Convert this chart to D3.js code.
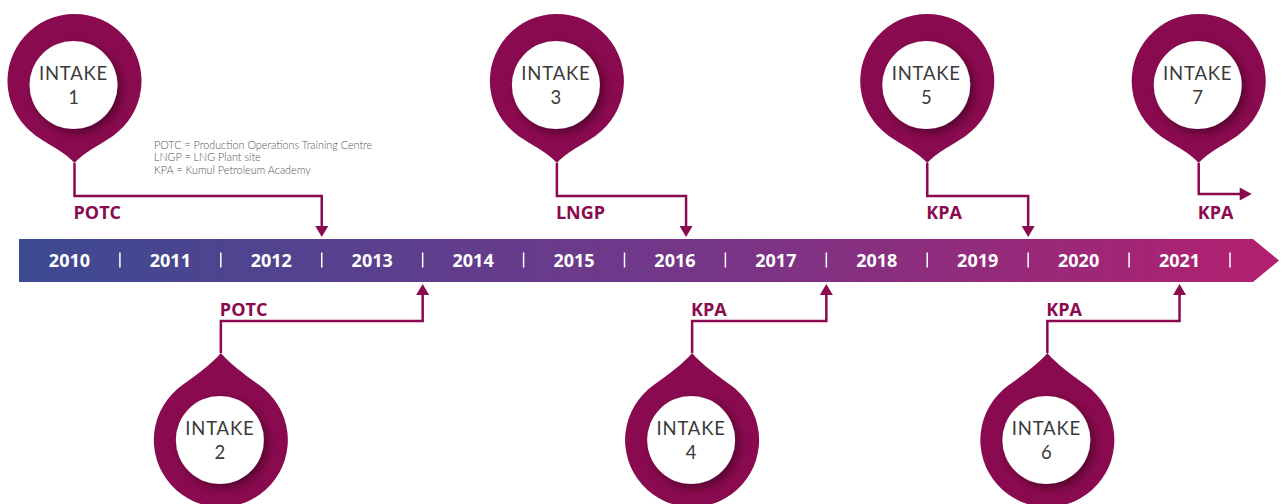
<!DOCTYPE html>
<html>
<head>
<meta charset="utf-8">
<script src="https://cdn.jsdelivr.net/npm/d3@7"></script>
<style>
  body { margin: 0; background: #fff; }
  svg { display: block; }
</style>
</head>
<body>
<svg id="chart" width="1282" height="504"></svg>
<script>
// timeline data
const years = [2010, 2011, 2012, 2013, 2014, 2015, 2016, 2017, 2018, 2019, 2020, 2021];
const intakes = [1, 2, 3, 4, 5, 6, 7];
const locations = ["POTC", "POTC", "LNGP", "KPA", "KPA", "KPA", "KPA"];
const sides = ["top", "bottom", "top", "bottom", "top", "bottom", "top"];
const startYears = [2010.55, 2012.0, 2015.33, 2016.67, 2019.0, 2020.19, 2021.69];
const arrivalYears = [2013.0, 2014.0, 2016.61, 2018.0, 2020.0, 2021.5, null]; // null = ongoing
const legendLines = [
    "POTC = Production Operations Training Centre",
    "LNGP = LNG Plant site",
    "KPA = Kumul Petroleum Academy"
];

const pinColor = "#8a0a4f";

const svg = d3.select("#chart");
const x = d3.scaleLinear().domain([2010, 2022]).range([19, 1230]);

const barTop = 239, barBottom = 282, barMid = (barTop + barBottom) / 2;
const topLineY = 196, bottomLineY = 321;

// gradient for the bar
const defs = svg.append("defs");
const grad = defs.append("linearGradient").attr("id", "barGrad")
    .attr("x1", "0%").attr("x2", "100%").attr("y1", "0%").attr("y2", "0%");
grad.append("stop").attr("offset", "0%").attr("stop-color", "#3c4a92");
grad.append("stop").attr("offset", "50%").attr("stop-color", "#71388a");
grad.append("stop").attr("offset", "100%").attr("stop-color", "#b2206f");

const shadow = defs.append("filter").attr("id", "innerShadow")
    .attr("x", "-30%").attr("y", "-30%").attr("width", "160%").attr("height", "160%");
shadow.append("feDropShadow")
    .attr("dx", 4).attr("dy", 4).attr("stdDeviation", 4)
    .attr("flood-color", "#2a0016").attr("flood-opacity", 0.55);

// the bar with arrow end
const barEnd = 1253, tipX = 1279;
svg.append("path")
    .attr("d", `M${x(2010)},${barTop} L${barEnd},${barTop} L${tipX},${barMid} L${barEnd},${barBottom} L${x(2010)},${barBottom} Z`)
    .attr("fill", "url(#barGrad)");

// year labels
svg.selectAll("text.year")
    .data(years)
    .enter().append("text")
    .attr("class", "year")
    .attr("x", d => x(d + 0.5))
    .attr("y", barMid + 6.5)
    .attr("text-anchor", "middle")
    .attr("font-family", "Open Sans")
    .attr("font-weight", 700)
    .attr("font-size", 18)
    .attr("fill", "#fff")
    .text(d => d);

// separators
svg.selectAll("line.sep")
    .data(years)
    .enter().append("line")
    .attr("class", "sep")
    .attr("x1", d => x(d + 1)).attr("x2", d => x(d + 1))
    .attr("y1", barMid - 8).attr("y2", barMid + 7)
    .attr("stroke", "#fff")
    .attr("stroke-width", 1.5);

// legend
svg.append("g").selectAll("text")
    .data(legendLines)
    .enter().append("text")
    .attr("x", 154)
    .attr("y", (d, i) => 148.5 + i * 12.7)
    .attr("font-family", "Lato")
    .attr("font-weight", 300)
    .attr("font-size", 10.8)
    .attr("fill", "#555")
    .text(d => d);

const events = intakes.map((n, i) => ({
    n: n,
    loc: locations[i],
    side: sides[i],
    start: startYears[i],
    arrive: arrivalYears[i]
}));

// pin outline, tip pointing along +y (dir flips it)
function pinPath(d, dir) {
    const r = 67;
    const th = 35 * Math.PI / 180;
    const jx = r * Math.sin(th), jy = r * Math.cos(th);
    const s = v => v * dir;
    return `M0,${s(d)} ` +
        `C${-8},${s(d - 10)} ${-27},${s(63)} ${-jx},${s(jy)} ` +
        `A${r},${r} 0 1 ${dir > 0 ? 1 : 0} ${jx},${s(jy)} ` +
        `C${27},${s(63)} ${8},${s(d - 10)} 0,${s(d)} Z`;
}

function arrowHead(px, py, dir) {
    // dir: "down", "up", "right"
    if (dir === "down") return `M${px},${py} L${px - 6.5},${py - 11} L${px + 6.5},${py - 11} Z`;
    if (dir === "up") return `M${px},${py} L${px - 6.5},${py + 11} L${px + 6.5},${py + 11} Z`;
    return `M${px},${py} L${px - 12},${py - 6.5} L${px - 12},${py + 6.5} Z`;
}

const groups = svg.selectAll("g.event")
    .data(events)
    .enter().append("g")
    .attr("class", "event");

groups.each(function(e) {
    const g = d3.select(this);
    const px = x(e.start);
    const top = e.side === "top";
    const cy = top ? 81 : 440;
    const tipDist = top ? 82 : 87;
    const tipY = top ? cy + tipDist : cy - tipDist;
    const lineY = top ? topLineY : bottomLineY;

    // connector
    let pts;
    if (e.arrive === null) {
        const ax = px + 53;
        pts = [[px, tipY], [px, lineY - 2], [ax - 10, lineY - 2]];
        g.append("path").attr("d", arrowHead(ax, lineY - 2, "right")).attr("fill", pinColor);
    } else {
        const ax = x(e.arrive);
        const endY = top ? barTop - 13 : barBottom + 13;
        pts = [[px, tipY], [px, lineY], [ax, lineY], [ax, endY]];
        g.append("path")
            .attr("d", arrowHead(ax, top ? barTop - 2 : barBottom + 2, top ? "down" : "up"))
            .attr("fill", pinColor);
    }
    g.append("path")
        .attr("d", d3.line()(pts))
        .attr("fill", "none")
        .attr("stroke", pinColor)
        .attr("stroke-width", 2.5);

    // location label
    g.append("text")
        .attr("x", px - 1)
        .attr("y", top ? 219 : 316)
        .attr("font-family", "Open Sans")
        .attr("font-weight", 700)
        .attr("font-size", 18)
        .attr("fill", pinColor)
        .text(e.loc);

    // pin
    const pin = g.append("g").attr("transform", `translate(${px},${cy})`);
    pin.append("path")
        .attr("d", pinPath(tipDist, top ? 1 : -1))
        .attr("fill", pinColor);
    const wy = top ? 4 : 0;
    pin.append("circle")
        .attr("cx", -1).attr("cy", wy)
        .attr("r", 44)
        .attr("fill", "#fff")
        .attr("filter", "url(#innerShadow)");
    pin.append("text")
        .attr("x", -1).attr("y", wy - 5)
        .attr("text-anchor", "middle")
        .attr("font-family", "Lato")
        .attr("font-weight", 400)
        .attr("font-size", 18.5)
        .attr("letter-spacing", 0.8)
        .attr("fill", "#3a3a3a")
        .text("INTAKE");
    pin.append("text")
        .attr("x", -1).attr("y", wy + 19)
        .attr("text-anchor", "middle")
        .attr("font-family", "Lato")
        .attr("font-weight", 400)
        .attr("font-size", 18.5)
        .attr("fill", "#3a3a3a")
        .text(e.n);
});
</script>
</body>
</html>
